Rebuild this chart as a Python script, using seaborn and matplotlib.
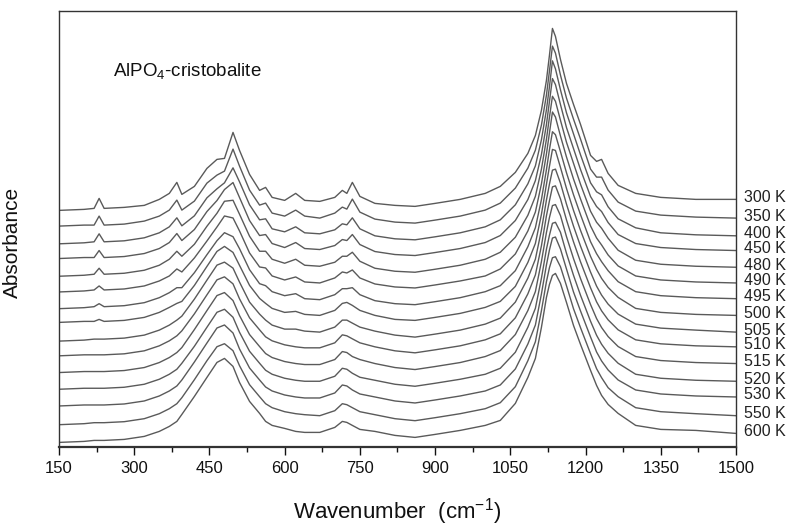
import pandas as pd
import matplotlib
matplotlib.use("Agg")
import matplotlib.pyplot as plt
import seaborn as sns

# wavenumber grid (cm-1) on which the spectra were read
wavenumber = [150, 200, 220, 230, 240, 280, 320, 350, 370, 385,
              395, 420, 445, 465, 480, 497, 510, 530, 550, 562,
              575, 600, 622, 640, 670, 700, 715, 724, 735, 750,
              780, 820, 860, 900, 950, 1000, 1030, 1060, 1085, 1100,
              1112, 1122, 1128, 1134, 1140, 1150, 1162, 1176, 1190, 1210,
              1222, 1232, 1245, 1265, 1300, 1350, 1420, 1500]

temperatures = ["300 K", "350 K", "400 K", "450 K", "480 K", "490 K", "495 K", "500 K",
                "505 K", "510 K", "515 K", "520 K", "530 K", "550 K", "600 K"]

# absorbance in units of 0.01 (a.u.), one list per temperature
abs_300 = [1, 2, 3, 13, 3, 4, 6, 12, 18, 29,
           17, 25, 43, 52, 53, 79, 61, 37, 21, 24,
           14, 11, 18, 11, 10, 14, 21, 18, 29, 15,
           8, 6, 5, 8, 12, 18, 25, 39, 58, 76,
           101, 131, 156, 183, 175, 152, 128, 107, 87, 56,
           50, 52, 38, 26, 18, 14, 12, 12]
abs_350 = [2, 3, 3, 12, 3, 4, 7, 12, 18, 28,
           18, 27, 45, 53, 57, 79, 62, 38, 23, 25,
           15, 12, 18, 12, 10, 15, 21, 19, 29, 16,
           9, 6, 5, 8, 12, 18, 25, 40, 60, 78,
           103, 133, 157, 182, 175, 153, 130, 109, 89, 59,
           51, 51, 38, 26, 17, 13, 11, 10]
abs_400 = [1, 2, 3, 11, 3, 4, 7, 12, 18, 27,
           19, 29, 47, 56, 62, 77, 63, 40, 25, 26,
           16, 13, 18, 12, 11, 15, 21, 20, 27, 16,
           9, 6, 5, 8, 12, 18, 25, 40, 61, 79,
           105, 135, 158, 184, 176, 155, 132, 111, 90, 62,
           53, 50, 38, 26, 17, 12, 10, 9]
abs_450 = [3, 4, 4, 11, 4, 5, 8, 13, 19, 28,
           21, 32, 50, 61, 72, 79, 64, 41, 26, 27,
           18, 14, 19, 13, 12, 16, 22, 21, 27, 17,
           10, 7, 6, 9, 13, 19, 26, 41, 62, 81,
           107, 137, 160, 183, 177, 157, 134, 113, 92, 65,
           55, 50, 39, 27, 18, 14, 12, 11]
abs_480 = [2, 3, 4, 10, 4, 5, 8, 13, 19, 27,
           22, 34, 52, 65, 77, 78, 64, 42, 27, 27,
           19, 15, 19, 13, 12, 16, 22, 22, 26, 17,
           10, 7, 6, 9, 13, 19, 26, 41, 63, 82,
           109, 139, 161, 182, 177, 158, 136, 115, 94, 67,
           56, 50, 40, 28, 18, 14, 12, 11]
abs_490 = [3, 4, 5, 9, 5, 6, 9, 14, 19, 26,
           23, 37, 54, 68, 79, 77, 64, 42, 28, 27,
           19, 15, 18, 13, 12, 17, 23, 22, 25, 17,
           11, 8, 7, 10, 14, 19, 26, 41, 64, 83,
           111, 141, 162, 183, 178, 159, 138, 116, 96, 69,
           57, 50, 40, 29, 19, 15, 13, 12]
abs_495 = [3, 4, 5, 8, 5, 6, 9, 14, 19, 24,
           24, 39, 57, 71, 79, 75, 63, 42, 28, 26,
           20, 16, 18, 13, 12, 17, 23, 23, 24, 17,
           11, 8, 7, 10, 14, 20, 26, 41, 65, 84,
           112, 142, 162, 180, 177, 160, 139, 117, 97, 70,
           58, 50, 41, 30, 20, 16, 14, 13]
abs_500 = [6, 7, 7, 9, 7, 8, 11, 16, 21, 25,
           27, 43, 62, 77, 82, 76, 63, 43, 30, 25,
           20, 16, 17, 14, 13, 18, 25, 26, 23, 18,
           13, 9, 8, 11, 15, 21, 27, 42, 66, 85,
           114, 144, 162, 179, 178, 161, 140, 118, 98, 72,
           59, 50, 41, 31, 20, 16, 14, 13]
abs_505 = [4, 5, 6, 6, 6, 7, 10, 15, 20, 25,
           29, 46, 65, 80, 83, 77, 63, 43, 31, 25,
           20, 16, 16, 14, 13, 18, 25, 25, 22, 18,
           14, 10, 8, 11, 15, 21, 27, 43, 67, 86,
           115, 145, 161, 175, 176, 162, 141, 119, 99, 73,
           59, 50, 41, 31, 21, 17, 15, 13]
abs_510 = [6, 7, 7, 7, 7, 8, 11, 16, 21, 26,
           31, 48, 67, 82, 85, 78, 63, 44, 32, 25,
           21, 17, 15, 14, 14, 19, 27, 26, 23, 19,
           15, 11, 9, 12, 16, 22, 28, 44, 68, 87,
           116, 146, 161, 175, 176, 163, 142, 120, 100, 74,
           60, 51, 42, 32, 22, 18, 16, 15]
abs_515 = [6, 7, 7, 7, 7, 8, 11, 16, 21, 26,
           31, 49, 68, 83, 86, 78, 63, 44, 32, 25,
           21, 17, 15, 14, 14, 19, 27, 26, 22, 19,
           15, 11, 9, 12, 16, 22, 28, 44, 68, 87,
           117, 146, 161, 173, 174, 163, 142, 120, 100, 74,
           60, 51, 42, 32, 22, 18, 16, 15]
abs_520 = [6, 7, 7, 7, 7, 8, 11, 16, 21, 26,
           32, 49, 68, 83, 86, 78, 63, 44, 32, 25,
           21, 17, 15, 14, 14, 19, 27, 26, 22, 18,
           15, 11, 9, 12, 16, 21, 27, 43, 68, 87,
           117, 146, 160, 172, 173, 163, 142, 120, 100, 74,
           60, 51, 42, 32, 21, 17, 15, 14]
abs_530 = [6, 7, 7, 7, 7, 8, 11, 16, 21, 26,
           32, 50, 69, 84, 87, 79, 63, 44, 32, 25,
           21, 17, 15, 14, 14, 19, 27, 26, 22, 18,
           15, 11, 9, 12, 16, 21, 27, 43, 68, 87,
           118, 147, 162, 174, 175, 163, 143, 120, 101, 75,
           60, 51, 42, 32, 22, 18, 16, 15]
abs_550 = [4, 5, 6, 6, 6, 7, 10, 15, 20, 25,
           31, 49, 68, 82, 85, 78, 63, 44, 32, 25,
           21, 17, 15, 14, 13, 18, 25, 24, 21, 17,
           14, 10, 8, 11, 15, 20, 26, 42, 68, 87,
           118, 147, 161, 171, 172, 162, 143, 120, 101, 75,
           60, 51, 41, 32, 21, 17, 15, 13]
abs_600 = [3, 4, 5, 5, 5, 6, 9, 14, 19, 24,
           31, 49, 68, 83, 87, 79, 63, 44, 32, 24,
           20, 17, 14, 13, 13, 18, 24, 23, 20, 16,
           14, 10, 8, 11, 15, 20, 25, 42, 68, 87,
           118, 148, 161, 170, 172, 162, 143, 120, 101, 75,
           60, 50, 41, 32, 20, 16, 15, 12]

spectra = [abs_300, abs_350, abs_400, abs_450, abs_480, abs_490, abs_495, abs_500,
           abs_505, abs_510, abs_515, abs_520, abs_530, abs_550, abs_600]

sns.set_theme(style="ticks")
plt.rcParams["font.family"] = ["Liberation Sans", "DejaVu Sans"]
plt.rcParams["mathtext.default"] = "regular"

# stack the spectra: lowest temperature on top
step = 0.1672
base = 0.016
n = len(spectra)
rows = []
for i, (label, vals) in enumerate(zip(temperatures, spectra)):
    off = base + step * (n - 1 - i)
    for w, a in zip(wavenumber, vals):
        rows.append((label, w, a / 100 + off))
df = pd.DataFrame(rows, columns=["T", "wavenumber", "y"])

fig = plt.figure(figsize=(7.93, 5.29), dpi=100)
ax = fig.add_axes([0.0744, 0.155, 0.8537, 0.824])

sns.lineplot(data=df, x="wavenumber", y="y", units="T", estimator=None,
             sort=False, color="#5a5a5a", lw=1.0, ax=ax, legend=False)

for i, label in enumerate(temperatures):
    yl = base + step * (n - 1 - i) + spectra[i][-1] / 100 + 0.02
    ax.text(1.012, yl, label, transform=ax.get_yaxis_transform(),
            ha="left", va="center", fontsize=11.5, color="#222222")

ax.text(0.08, 0.862, "AlPO$_4$-cristobalite", transform=ax.transAxes,
        ha="left", va="center", fontsize=13.5, color="#111111")

ax.set_xlim(150, 1500)
ax.set_ylim(0, 4.36)
ax.set_xticks(range(150, 1501, 150))
ax.set_xticks(range(225, 1500, 150), minor=True)
ax.set_yticks([])
ax.tick_params(axis="x", which="major", direction="out", length=6, width=1,
               labelsize=12, pad=4, colors="#111111")
ax.tick_params(axis="x", which="minor", direction="out", length=3.5, width=1,
               colors="#111111")
for s in ax.spines.values():
    s.set_visible(True)
    s.set_color("#333333")
    s.set_linewidth(1.0)
ax.spines["bottom"].set_linewidth(1.6)

ax.set_xlabel("Wavenumber  (cm$^{-1}$)", fontsize=16, color="#111111")
ax.set_ylabel("Absorbance", fontsize=15, color="#111111")
ax.xaxis.set_label_coords(0.5, -0.112)
ax.yaxis.set_label_coords(-0.055, 0.47)

fig.savefig("out.png", dpi=100)
